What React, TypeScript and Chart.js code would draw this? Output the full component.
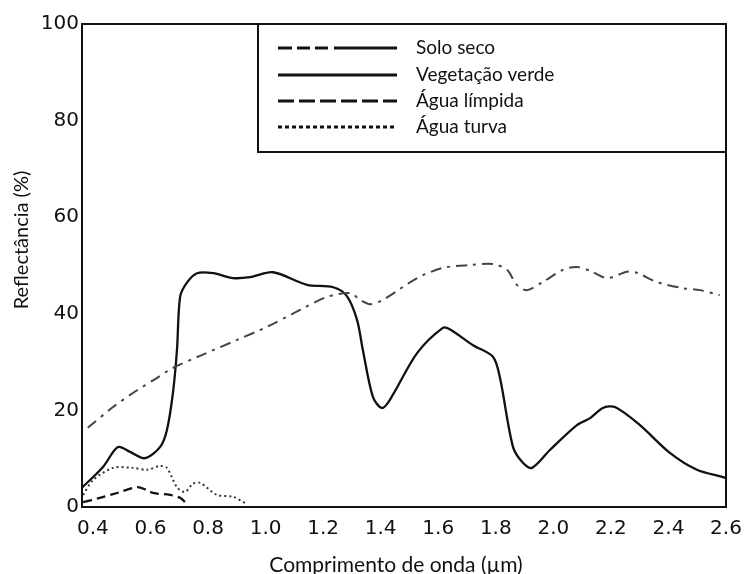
import React, { useEffect, useRef } from "react";
import { Chart, registerables } from "chart.js";

Chart.register(...registerables);

// ---- Data (wavelength in µm, reflectance in %) ----
const soilWavelength = [0.382, 0.47, 0.539, 0.622, 0.678, 0.772, 0.901, 1.005, 1.12, 1.213, 1.294, 1.328, 1.363, 1.408, 1.527, 1.616, 1.711, 1.79, 1.839, 1.873, 1.908, 1.964, 2.033, 2.082, 2.128, 2.187, 2.256, 2.29, 2.359, 2.45, 2.509, 2.578];
const soilReflectance = [16.4, 20.7, 23.6, 26.7, 28.8, 31.3, 34.6, 37.3, 40.8, 43.5, 44.3, 42.9, 42.0, 42.9, 47.4, 49.5, 50.1, 50.3, 49.1, 46.0, 44.9, 46.6, 49.1, 49.7, 48.9, 47.4, 48.7, 48.5, 46.6, 45.3, 44.9, 43.9];

const vegWavelength = [0.362, 0.435, 0.487, 0.529, 0.581, 0.633, 0.657, 0.678, 0.692, 0.703, 0.726, 0.762, 0.818, 0.887, 0.946, 1.026, 1.144, 1.235, 1.282, 1.318, 1.338, 1.373, 1.404, 1.432, 1.527, 1.616, 1.64, 1.721, 1.79, 1.814, 1.86, 1.895, 1.926, 1.988, 2.083, 2.128, 2.172, 2.214, 2.3, 2.405, 2.499, 2.589, 2.6];
const vegReflectance = [4.0, 8.3, 12.4, 11.4, 10.1, 12.4, 15.9, 23.6, 32.5, 43.5, 46.4, 48.4, 48.4, 47.4, 47.6, 48.6, 46.0, 45.5, 43.7, 38.7, 32.5, 22.8, 20.5, 22.2, 31.9, 37.1, 36.8, 33.5, 31.1, 26.9, 12.4, 9.1, 8.1, 11.8, 17.0, 18.4, 20.5, 20.7, 17.0, 11.2, 7.7, 6.2, 6.0];

const clearWavelength = [0.366, 0.424, 0.484, 0.553, 0.588, 0.609, 0.668, 0.703, 0.727];
const clearReflectance = [1.0, 1.9, 2.9, 4.1, 3.5, 2.9, 2.5, 1.9, 0.6];

const turbidWavelength = [0.366, 0.401, 0.47, 0.539, 0.588, 0.633, 0.657, 0.692, 0.72, 0.747, 0.772, 0.831, 0.887, 0.936];
const turbidReflectance = [2.5, 5.6, 8.1, 8.1, 7.7, 8.5, 8.1, 4.1, 3.1, 4.8, 5.0, 2.5, 2.1, 0.6];

const seriesNames = ["Solo seco", "Vegetação verde", "Água límpida", "Água turva"];
const xTickValues = [0.4, 0.6, 0.8, 1.0, 1.2, 1.4, 1.6, 1.8, 2.0, 2.2, 2.4, 2.6];
const yTickValues = [0, 20, 40, 60, 80, 100];
const xAxisTitle = "Comprimento de onda (µm)";
const yAxisTitle = "Reflectância (%)";

const toPoints = (xs: number[], ys: number[]) => xs.map((x, i) => ({ x, y: ys[i] }));

const TEXT_FONT = "Lato, 'Open Sans', sans-serif";
const TICK_FONT = "'DejaVu Sans', 'Liberation Sans', sans-serif";

const decorPlugin = {
  id: "decor",
  afterDraw(chart: any) {
    const { ctx, chartArea } = chart;
    const { left, right, top, bottom } = chartArea;
    ctx.save();
    // plot frame
    ctx.strokeStyle = "#111";
    ctx.lineWidth = 2;
    ctx.setLineDash([]);
    ctx.strokeRect(left, top, right - left, bottom - top);

    // legend box
    const bx = 258, by = top, bw = right - 258, bh = 128;
    ctx.fillStyle = "#fff";
    ctx.fillRect(bx, by, bw, bh);
    ctx.strokeRect(bx, by, bw, bh);

    const rowY = [48, 75, 101, 127];
    const x0 = 278, x1 = 397;
    ctx.lineWidth = 3;
    ctx.lineCap = "butt";
    const seg = (a: number, b: number, y: number) => {
      ctx.beginPath();
      ctx.moveTo(a, y);
      ctx.lineTo(b, y);
      ctx.stroke();
    };
    // Solo seco: three short dashes then a long line
    seg(x0, x0 + 14, rowY[0]);
    seg(x0 + 19, x0 + 32, rowY[0]);
    seg(x0 + 37, x0 + 50, rowY[0]);
    seg(x0 + 56, x1, rowY[0]);
    // Vegetação verde: solid
    seg(x0, x1, rowY[1]);
    // Água límpida: long dashes
    ctx.setLineDash([16, 5]);
    seg(x0, x1, rowY[2]);
    // Água turva: dots
    ctx.setLineDash([4, 3]);
    seg(x0, x1, rowY[3]);
    ctx.setLineDash([]);

    ctx.font = `19px ${TEXT_FONT}`;
    ctx.fillStyle = "#111";
    ctx.textBaseline = "middle";
    ctx.textAlign = "left";
    seriesNames.forEach((name, i) => ctx.fillText(name, 416, rowY[i]));

    // axis titles
    ctx.textAlign = "center";
    ctx.textBaseline = "middle";
    ctx.font = `21px ${TEXT_FONT}`;
    ctx.fillText(xAxisTitle, 396, 565);
    ctx.font = `20px ${TEXT_FONT}`;
    ctx.translate(22, 240);
    ctx.rotate(-Math.PI / 2);
    ctx.fillText(yAxisTitle, 0, 0);
    ctx.restore();
  },
};

export default function App() {
  const canvasRef = useRef<HTMLCanvasElement | null>(null);

  useEffect(() => {
    const canvas = canvasRef.current;
    if (!canvas) return;
    const lineColor = "#111";
    const chart = new Chart(canvas, {
      type: "line",
      data: {
        datasets: [
          {
            label: seriesNames[0],
            data: toPoints(soilWavelength, soilReflectance),
            borderColor: "#444",
            borderWidth: 2,
            borderDash: [11, 6, 3, 6],
            pointRadius: 0,
            tension: 0.3,
          },
          {
            label: seriesNames[1],
            data: toPoints(vegWavelength, vegReflectance),
            borderColor: lineColor,
            borderWidth: 2.3,
            pointRadius: 0,
            tension: 0.3,
          },
          {
            label: seriesNames[2],
            data: toPoints(clearWavelength, clearReflectance),
            borderColor: lineColor,
            borderWidth: 2.3,
            borderDash: [9, 5],
            pointRadius: 0,
            tension: 0.3,
          },
          {
            label: seriesNames[3],
            data: toPoints(turbidWavelength, turbidReflectance),
            borderColor: "#333",
            borderWidth: 2,
            borderDash: [2, 3],
            pointRadius: 0,
            tension: 0.3,
          },
        ],
      },
      options: {
        animation: false,
        responsive: false,
        devicePixelRatio: 1,
        layout: { padding: { left: 0, right: 21, top: 24, bottom: 0 } },
        plugins: {
          legend: { display: false },
          tooltip: { enabled: false },
          title: { display: false },
        },
        scales: {
          x: {
            type: "linear",
            min: 0.362,
            max: 2.6,
            grid: { display: false, drawTicks: false },
            border: { display: true, color: "#111", width: 2 },
            afterBuildTicks: (scale: any) => {
              scale.ticks = xTickValues.map((v) => ({ value: v }));
            },
            afterFit: (scale: any) => {
              scale.height = 67;
              scale.paddingLeft = 0;
              scale.paddingRight = 0;
            },
            ticks: {
              color: "#111",
              padding: 10,
              maxRotation: 0,
              autoSkip: false,
              font: { family: TICK_FONT, size: 20 },
              callback: (v: any) => Number(v).toFixed(1),
            },
          },
          y: {
            type: "linear",
            min: 0,
            max: 100,
            grid: { display: false, drawTicks: false },
            border: { display: true, color: "#111", width: 2 },
            afterBuildTicks: (scale: any) => {
              scale.ticks = yTickValues.map((v) => ({ value: v }));
            },
            afterFit: (scale: any) => {
              scale.width = 82;
              scale.paddingTop = 0;
              scale.paddingBottom = 0;
            },
            ticks: {
              color: "#111",
              padding: 3,
              autoSkip: false,
              font: { family: TICK_FONT, size: 20 },
              callback: (v: any) => String(v),
            },
          },
        },
      },
      plugins: [decorPlugin],
    });
    return () => chart.destroy();
  }, []);

  return (
    <div style={{ position: "absolute", left: 0, top: 0, width: 747, height: 574, background: "#fff" }}>
      <canvas ref={canvasRef} width={747} height={574} style={{ display: "block" }} />
    </div>
  );
}
